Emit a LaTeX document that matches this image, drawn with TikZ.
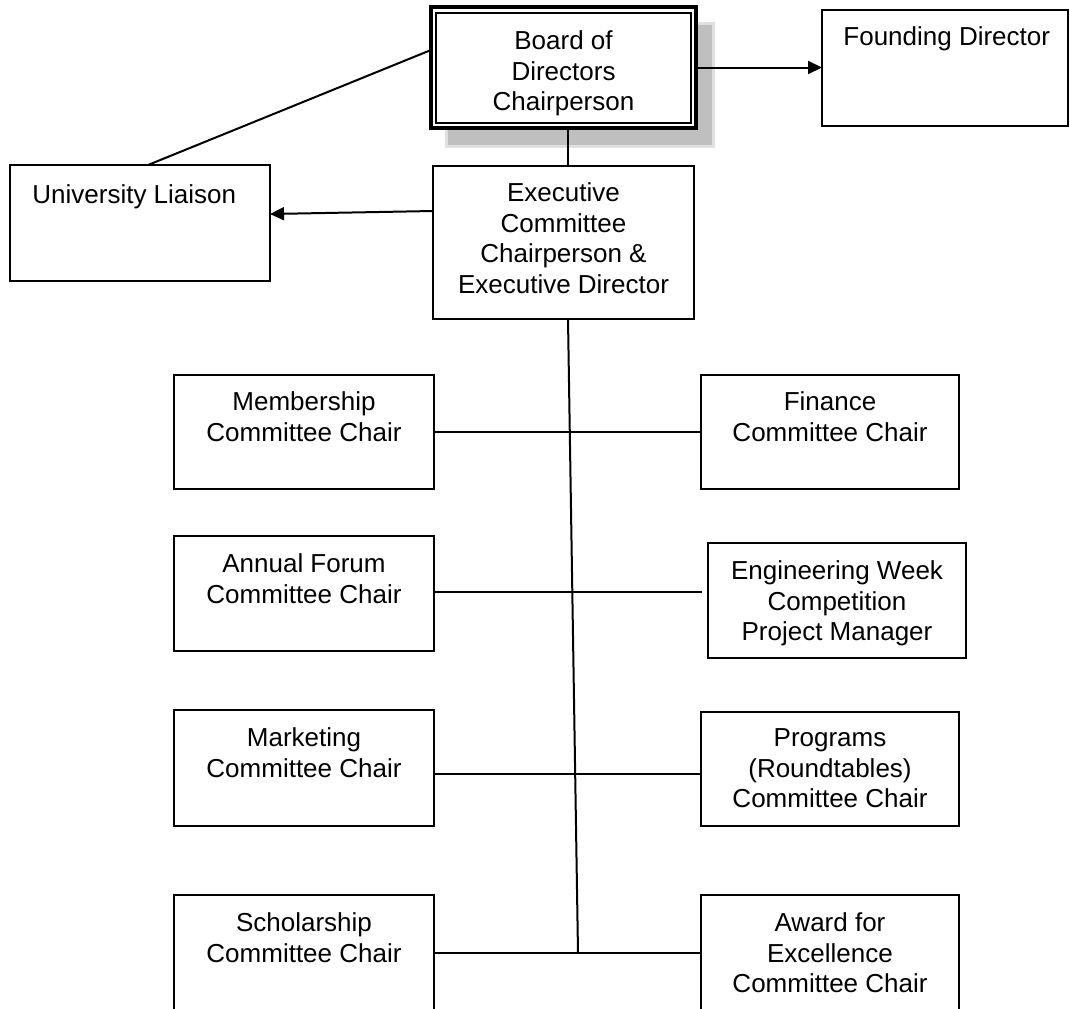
\documentclass[tikz,border=0pt]{standalone}
\usepackage{fontspec}
\setmainfont{Liberation Sans}
\usetikzlibrary{arrows.meta}

\begin{document}
\begin{tikzpicture}[x=0.5pt, y=-0.5pt,
          box/.style={draw, line width=1.2pt, anchor=north west,
            inner sep=0pt, outer sep=0pt},
          txt/.style={font=\fontsize{13pt}{15.25pt}\selectfont,
            align=center, anchor=north, inner sep=0pt},
          conn/.style={line width=1pt},
          arr/.style={conn, -{Triangle[length=7pt, width=6.5pt]}},
        ]
          \useasboundingbox (0,0) rectangle (1070,1008);
          % shadow and double frame of the board
          \fill[black!25, draw=black!12, line width=1.5pt] (446,23) rectangle (713,146);
          \node[box, fill=white, line width=1.6pt, minimum width=132.5pt, minimum height=60.5pt] (board) at (431,7) {};
          \draw[line width=1pt] (436,13) rectangle (691,123);
          \node[box, minimum width=123pt, minimum height=58pt] (fd) at (822,10) {};
          \node[box, minimum width=130pt, minimum height=58pt] (ul) at (10,165) {};
          \node[box, minimum width=130.5pt, minimum height=76.5pt] (exec) at (433,166) {};
          \node[box, minimum width=130pt, minimum height=57pt] (memb) at (174,375) {};
          \node[box, minimum width=129pt, minimum height=57pt] (fin) at (701,375) {};
          \node[box, minimum width=130pt, minimum height=57.5pt] (forum) at (174,536) {};
          \node[box, minimum width=129pt, minimum height=57.5pt] (eweek) at (708,543) {};
          \node[box, minimum width=130pt, minimum height=58pt] (mkt) at (174,710) {};
          \node[box, minimum width=129pt, minimum height=57pt] (prog) at (701,712) {};
          \node[box, minimum width=130pt, minimum height=57.5pt] (schol) at (174,895) {};
          \node[box, minimum width=129pt, minimum height=57.5pt] (award) at (701,895) {};
          % labels
          \node[txt] (board-t) at ([yshift=-11.7pt]board.north) {Board of\\Directors\\Chairperson};
          \node[txt, anchor=base west] (fd-t) at ([xshift=10.5pt, yshift=-17.5pt]fd.north west) {Founding Director};
          \node[txt, anchor=base west] (ul-t) at ([xshift=11pt, yshift=-19pt]ul.north west) {University Liaison};
          \node[txt] (exec-t) at ([yshift=-8.2pt]exec.north) {Executive\\Committee\\Chairperson \&\\Executive Director};
          \node[txt] (memb-t) at ([yshift=-8.2pt]memb.north) {Membership\\Committee Chair};
          \node[txt] (fin-t) at ([yshift=-8.2pt]fin.north) {Finance\\Committee Chair};
          \node[txt] (forum-t) at ([yshift=-8.7pt]forum.north) {Annual Forum\\Committee Chair};
          \node[txt] (eweek-t) at ([yshift=-8.7pt]eweek.north) {Engineering Week\\Competition\\Project Manager};
          \node[txt] (mkt-t) at ([yshift=-8.7pt]mkt.north) {Marketing\\Committee Chair};
          \node[txt] (prog-t) at ([yshift=-8.2pt]prog.north) {Programs\\(Roundtables)\\Committee Chair};
          \node[txt] (schol-t) at ([yshift=-8.7pt]schol.north) {Scholarship\\Committee Chair};
          \node[txt] (award-t) at ([yshift=-8.7pt]award.north) {Award for\\Excellence\\Committee Chair};
          % connectors
          \coordinate (sp) at (568,0);
          \coordinate (spine-end) at (578,953);
          \draw[arr] (board.east) -- (board.east -| fd.west);
          \draw[conn] ([yshift=8.75pt]board.west) -- ([xshift=4pt]ul.north);
          \draw[conn] (board.south -| sp) -- (exec.north -| sp);
          \draw[arr] ([yshift=15.75pt]exec.west) -- ([yshift=4.5pt]ul.east);
          \draw[conn] (exec.south -| sp) -- (spine-end);
          \draw[conn] (memb.east) -- (memb.east -| fin.west);
          \draw[conn] ([yshift=0.75pt]forum.east) -- ++(268,0);
          \draw[conn] ([yshift=-3pt]mkt.east) -- ([yshift=-3pt]mkt.east -| prog.west);
          \draw[conn] (schol.east) -- (schol.east -| award.west);
        \end{tikzpicture}
\end{document}
